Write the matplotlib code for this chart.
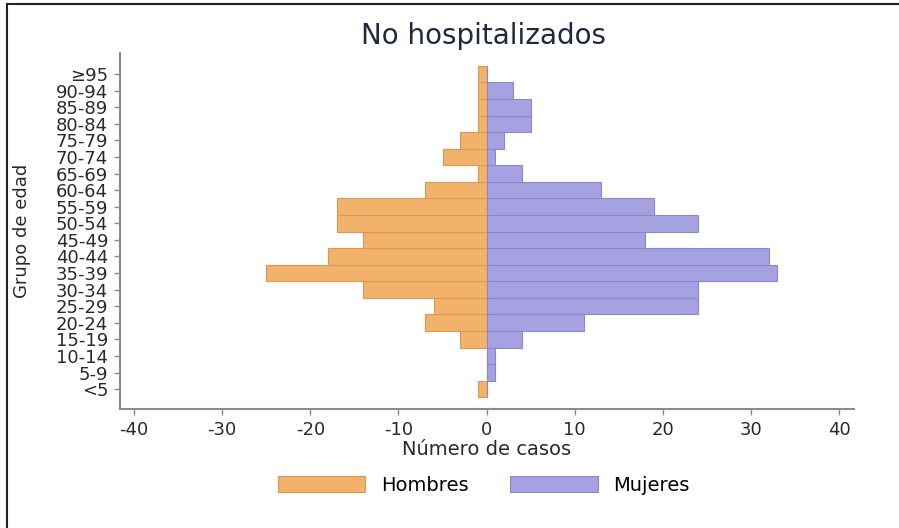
import numpy as np
import matplotlib
matplotlib.use("Agg")
import matplotlib.pyplot as plt
from matplotlib.lines import Line2D

plt.rcParams['font.family'] = ['DejaVu Sans']

# data
age_groups = ['<5', '5-9', '10-14', '15-19', '20-24', '25-29', '30-34', '35-39',
              '40-44', '45-49', '50-54', '55-59', '60-64', '65-69', '70-74',
              '75-79', '80-84', '85-89', '90-94', '≥95']
hombres = [1, 0, 0, 3, 7, 6, 14, 25, 18, 14, 17, 17, 7, 1, 5, 3, 1, 1, 1, 1]
mujeres = [0, 1, 1, 4, 11, 24, 24, 33, 32, 18, 24, 19, 13, 4, 1, 2, 5, 5, 3, 0]
x_ticks = [-40, -30, -20, -10, 0, 10, 20, 30, 40]

orange = '#f2b26c'
orange_edge = '#d99a55'
purple = '#a6a1e0'
purple_edge = '#8c87c8'
text_col = '#2a2a2a'

fig = plt.figure(figsize=(8.99, 5.28), dpi=100)
ax = fig.add_axes([0.1335, 0.2254, 0.8165, 0.6742])

y = np.arange(len(age_groups))
ax.barh(y, -np.array(hombres), height=1.0, color=orange, edgecolor=orange_edge,
        linewidth=0.8, label='Hombres')
ax.barh(y, mujeres, height=1.0, color=purple, edgecolor=purple_edge,
        linewidth=0.8, label='Mujeres')

ax.set_xlim(-41.6, 41.7)
ax.set_ylim(-1.2, 20.27)
ax.set_xticks(x_ticks)
ax.set_xticklabels([str(v) for v in x_ticks])
ax.set_yticks(y)
ax.set_yticklabels(age_groups)

for s in ['top', 'right']:
    ax.spines[s].set_visible(False)
for s in ['left', 'bottom']:
    ax.spines[s].set_color('#8a8a8a')
    ax.spines[s].set_linewidth(1.5)
ax.tick_params(axis='both', colors='#8a8a8a', length=4.5, width=1,
               labelcolor=text_col, labelsize=13)
ax.tick_params(axis='y', pad=4)
ax.tick_params(axis='x', pad=4.5)

ax.set_xlabel('Número de casos', fontsize=14, color=text_col, labelpad=0.5)
ax.set_ylabel('Grupo de edad', fontsize=13, color=text_col)
ax.yaxis.set_label_coords(-0.121, 0.5)
fig.text(0.538, 0.932, 'No hospitalizados', ha='center', va='center',
         fontsize=20, color='#1e2b3c')

fig.legend(loc='center', bbox_to_anchor=(0.538, 0.0814), ncol=2, frameon=False,
           fontsize=14, handlelength=4.5, handleheight=0.85,
           handletextpad=0.8, columnspacing=2.15)

# image frame
fig.add_artist(Line2D([0.0078, 0.0078], [0, 0.993], transform=fig.transFigure,
                      color='#222222', linewidth=1.5))
fig.add_artist(Line2D([0.0078, 1.0], [0.993, 0.993], transform=fig.transFigure,
                      color='#222222', linewidth=1.5))

fig.savefig('out.png', dpi=100)
